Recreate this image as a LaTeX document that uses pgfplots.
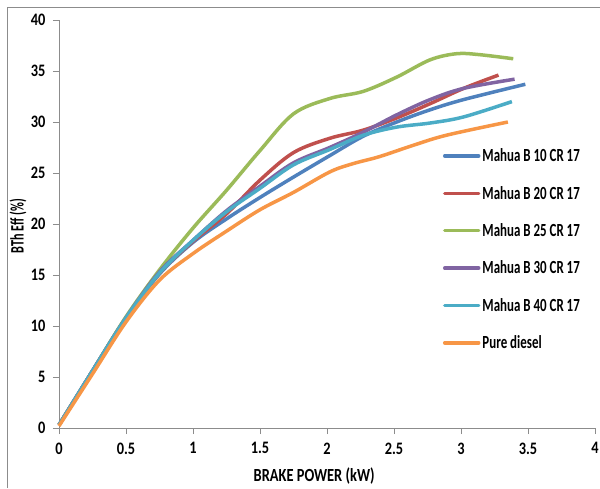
\documentclass[border=0pt]{standalone}
\usepackage{fontspec}
\setmainfont[FakeStretch=0.70]{Carlito}
\newfontfamily\tickfont[FakeStretch=0.82]{Carlito}
\newfontfamily\xlabfont[FakeStretch=0.78]{Carlito}
\newfontfamily\ylabfont[FakeStretch=0.64]{Carlito}
\usepackage{pgfplots}
\pgfplotsset{compat=1.18}
\definecolor{cblue}{HTML}{4F81BD}
\definecolor{cred}{HTML}{C0504D}
\definecolor{cgreen}{HTML}{9BBB59}
\definecolor{cpurple}{HTML}{8064A2}
\definecolor{ccyan}{HTML}{4BACC6}
\definecolor{corange}{HTML}{F79646}
\definecolor{axgray}{HTML}{8C8C8C}
\begin{document}
\begin{tikzpicture}
\path[use as bounding box] (-59pt,-60pt) rectangle (541pt,428pt);
\draw[axgray, line width=0.8pt] (-52pt,-60pt) -- (-52pt,421pt) -- (541pt,421pt);
\begin{axis}[
  at={(0pt,0pt)}, anchor=south west,
  scale only axis, width=536pt, height=408pt,
  xmin=0, xmax=4, ymin=0, ymax=40,
  xtick={0,0.5,...,4}, ytick={0,5,...,40},
  axis lines*=left,
  axis line style={axgray, line width=0.8pt},
  tick style={axgray, line width=0.8pt},
  tick align=outside, major tick length=6pt,
  /pgf/number format/assume math mode=true,
  /pgf/number format/fixed,
  tick label style={font=\fontsize{17.5}{20}\selectfont\tickfont\bfseries},
  xticklabel style={yshift=-5pt},
  yticklabel style={xshift=-4pt},
  xlabel={BRAKE POWER (kW)},
  ylabel={BTh Eff (\%)},
  xlabel style={font=\fontsize{18.5}{21}\selectfont\xlabfont\bfseries, at={(axis description cs:0.476,0)}, anchor=north, yshift=-36pt},
  ylabel style={font=\fontsize{19}{21}\selectfont\ylabfont\bfseries, at={(axis description cs:0,0.495)}, anchor=south, yshift=29pt},
  legend style={draw=none, fill=none, at={(axis description cs:0.716,0.69)}, anchor=north west,
    font=\fontsize{18.5}{21}\selectfont\bfseries, row sep=18.9pt, inner sep=0pt,
    /tikz/every even column/.append style={column sep=0pt}},
  legend cell align=left,
  legend image code/.code={\draw[#1, line width=3.5pt, line cap=round] (0pt,0pt) -- (34pt,0pt);},
  every axis plot/.append style={line width=3.5pt, smooth, tension=0.55, no markers, line join=round},
  clip=false,
]
\addplot[cblue] coordinates {(0,0.3) (0.25,5.6) (0.5,10.8) (0.75,15.1) (1.0,18.2) (1.25,20.5) (1.5,22.6) (1.75,24.6) (2.02,26.7) (2.27,28.6) (2.52,30.0) (2.77,31.2) (3.02,32.2) (3.48,33.7)};
\addlegendentry{Mahua B 10 CR 17}
\addplot[cred] coordinates {(0,0.3) (0.25,5.6) (0.5,10.8) (0.75,15.2) (1.0,18.3) (1.25,21.0) (1.5,24.3) (1.75,27.0) (2.02,28.4) (2.27,29.2) (2.52,30.4) (2.77,31.8) (3.02,33.3) (3.28,34.6)};
\addlegendentry{Mahua B 20 CR 17}
\addplot[cgreen] coordinates {(0,0.3) (0.25,5.6) (0.5,10.9) (0.75,15.5) (1.0,19.6) (1.25,23.3) (1.5,27.2) (1.75,30.8) (2.02,32.3) (2.27,33.0) (2.52,34.4) (2.77,36.1) (2.97,36.7) (3.14,36.6) (3.39,36.2)};
\addlegendentry{Mahua B 25 CR 17}
\addplot[cpurple] coordinates {(0,0.3) (0.25,5.6) (0.5,10.8) (0.75,15.3) (1.0,18.4) (1.25,21.3) (1.5,23.7) (1.75,26.0) (2.02,27.5) (2.27,29.0) (2.52,30.7) (2.77,32.2) (3.02,33.3) (3.40,34.2)};
\addlegendentry{Mahua B 30 CR 17}
\addplot[ccyan] coordinates {(0,0.3) (0.25,5.6) (0.5,10.8) (0.75,15.2) (1.0,18.4) (1.25,21.2) (1.5,23.5) (1.75,25.8) (2.02,27.3) (2.27,28.7) (2.52,29.5) (2.77,29.9) (3.02,30.5) (3.38,32.0)};
\addlegendentry{Mahua B 40 CR 17}
\addplot[corange] coordinates {(0,0.2) (0.25,5.3) (0.5,10.4) (0.75,14.5) (1.0,17.1) (1.25,19.3) (1.5,21.4) (1.75,23.1) (2.02,25.1) (2.19,25.9) (2.39,26.6) (2.64,27.7) (2.89,28.7) (3.35,30.0)};
\addlegendentry{Pure diesel}
\end{axis}
\end{tikzpicture}
\end{document}
